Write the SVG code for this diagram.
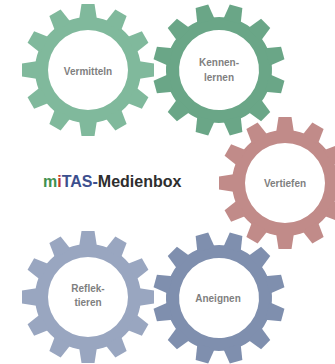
<svg xmlns="http://www.w3.org/2000/svg" xmlns:xlink="http://www.w3.org/1999/xlink" width="335" height="364" viewBox="0 0 335 364">
  <style>
    .label { font-family: "Liberation Sans", Arial, sans-serif; font-size: 10px; font-weight: bold; fill: #7f7f7f; text-anchor: middle; }
    .title { font-family: "Liberation Sans", Arial, sans-serif; font-size: 16px; font-weight: bold; fill: #2e2e2e; }
  </style>
  <defs>
    <!-- single tooth, pointing up from the gear centre -->
    <polygon id="tooth" points="-9,-50 -6.5,-66 6.5,-66 9,-50"/>
    <!-- 12-tooth gear with a hollow centre, centred on the origin -->
    <g id="gear">
      <path fill-rule="evenodd" d="M0,-53a53,53 0 1,0 0,106a53,53 0 1,0 0,-106z M0,-40a40,40 0 1,1 0,80a40,40 0 1,1 0,-80z"/>
      <use xlink:href="#tooth"/>
      <use xlink:href="#tooth" transform="rotate(30)"/>
      <use xlink:href="#tooth" transform="rotate(60)"/>
      <use xlink:href="#tooth" transform="rotate(90)"/>
      <use xlink:href="#tooth" transform="rotate(120)"/>
      <use xlink:href="#tooth" transform="rotate(150)"/>
      <use xlink:href="#tooth" transform="rotate(180)"/>
      <use xlink:href="#tooth" transform="rotate(210)"/>
      <use xlink:href="#tooth" transform="rotate(240)"/>
      <use xlink:href="#tooth" transform="rotate(270)"/>
      <use xlink:href="#tooth" transform="rotate(300)"/>
      <use xlink:href="#tooth" transform="rotate(330)"/>
    </g>
  </defs>

  <rect width="335" height="364" fill="#ffffff"/>

  <g id="connectors"/>

  <g id="vermitteln">
    <use xlink:href="#gear" transform="translate(88,70)" fill="#80b99c"/>
    <text class="label" x="88" y="74.5">Vermitteln</text>
  </g>

  <g id="kennenlernen">
    <use xlink:href="#gear" transform="translate(219,70) rotate(15)" fill="#6aa687"/>
    <text class="label" x="219" y="65.5">Kennen-</text>
    <text class="label" x="219" y="81">lernen</text>
  </g>

  <g id="vertiefen">
    <use xlink:href="#gear" transform="translate(285,183)" fill="#c18b89"/>
    <text class="label" x="285" y="187.3">Vertiefen</text>
  </g>

  <g id="reflektieren">
    <use xlink:href="#gear" transform="translate(88,297)" fill="#99a6c0"/>
    <text class="label" x="88" y="291.5">Reflek-</text>
    <text class="label" x="88" y="306">tieren</text>
  </g>

  <g id="aneignen">
    <use xlink:href="#gear" transform="translate(219,298) rotate(15)" fill="#7f8fae"/>
    <text class="label" x="218" y="301.5">Aneignen</text>
  </g>

  <g id="title">
    <text class="title" x="43" y="187"><tspan fill="#3f9150">m</tspan><tspan fill="#c0392b">i</tspan><tspan fill="#3c4f8e">TAS</tspan><tspan fill="#3c4f8e">-</tspan>Medienbox</text>
  </g>
</svg>
